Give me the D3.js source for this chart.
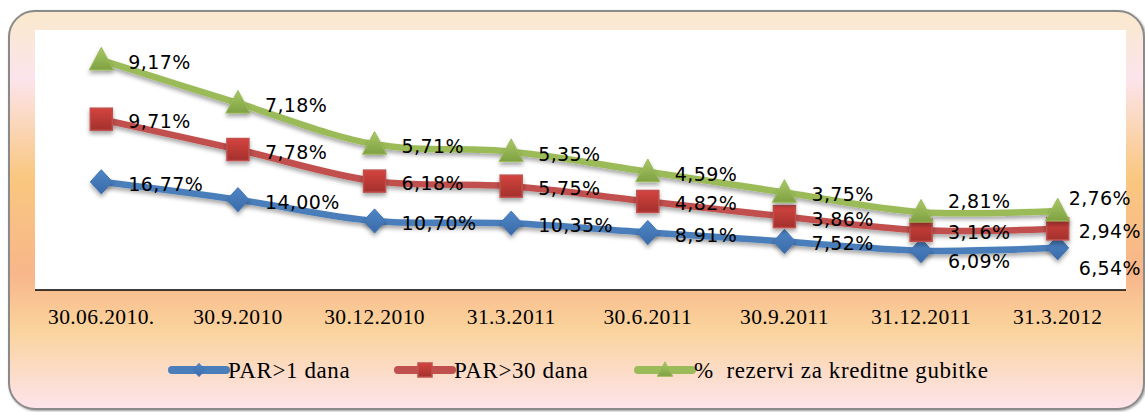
<!DOCTYPE html>
<html>
<head>
<meta charset="utf-8">
<script src="https://cdn.jsdelivr.net/npm/d3@7"></script>
<style>
  html, body { margin: 0; padding: 0; background: #fff; }
  svg { display: block; }
</style>
</head>
<body>
<svg id="chart" width="1145" height="412"></svg>
<script>
// categories and series
const categories = ["30.06.2010.", "30.9.2010", "30.12.2010", "31.3.2011", "30.6.2011", "30.9.2011", "31.12.2011", "31.3.2012"];
const par1 = [16.77, 14.00, 10.70, 10.35, 8.91, 7.52, 6.09, 6.54];
const par30 = [9.71, 7.78, 6.18, 5.75, 4.82, 3.86, 3.16, 2.94];
const rezerve = [9.17, 7.18, 5.71, 5.35, 4.59, 3.75, 2.81, 2.76];
const seriesNames = ["PAR>1 dana", "PAR>30 dana", "%  rezervi za kreditne gubitke"];

// a few labels were moved by hand in the original to avoid overlaps
const labelNudge = {
  "0-6": [0, 8], "2-6": [0, -13],
  "0-7": [-6, 18], "1-7": [-6, 0], "2-7": [-16, -15]
};

const svg = d3.select("#chart");
const defs = svg.append("defs");

const bg = defs.append("linearGradient").attr("id", "bg")
  .attr("x1", 0).attr("y1", 0).attr("x2", 0).attr("y2", 1);
[[0, "#fae9cc"], [0.17, "#fce4ec"], [0.42, "#f9c77f"], [0.66, "#f8b68a"], [0.8, "#fad39c"], [1, "#fde4ec"]]
  .forEach(s => bg.append("stop").attr("offset", s[0]).attr("stop-color", s[1]));

const shadow = defs.append("filter").attr("id", "shadow")
  .attr("x", "-20%").attr("y", "-20%").attr("width", "140%").attr("height", "160%");
shadow.append("feDropShadow").attr("dx", 0).attr("dy", 3).attr("stdDeviation", 2)
  .attr("flood-color", "#000").attr("flood-opacity", 0.35);

const boxShadow = defs.append("filter").attr("id", "boxShadow");
boxShadow.append("feDropShadow").attr("dx", 1).attr("dy", 1).attr("stdDeviation", 1)
  .attr("flood-color", "#000").attr("flood-opacity", 0.4);

const colors = [
  { line: "#4a7ebb", top: "#4f86c6", bottom: "#3a6aa8" },
  { line: "#c0504d", top: "#d4443f", bottom: "#a3302c" },
  { line: "#9bbb59", top: "#a9c866", bottom: "#7fa142" }
];
colors.forEach((c, i) => {
  const g = defs.append("linearGradient").attr("id", "mk" + i)
    .attr("x1", 0).attr("y1", 0).attr("x2", 0).attr("y2", 1);
  g.append("stop").attr("offset", 0).attr("stop-color", c.top);
  g.append("stop").attr("offset", 1).attr("stop-color", c.bottom);
});

// background
svg.append("rect")
  .attr("x", 9).attr("y", 11).attr("width", 1135).attr("height", 398)
  .attr("rx", 26).attr("ry", 26)
  .attr("fill", "url(#bg)")
  .attr("stroke", "#8a8a8a").attr("stroke-width", 2)
  .attr("filter", "url(#boxShadow)");

const plot = { left: 35, right: 1126, top: 30, bottom: 290 };
svg.append("rect")
  .attr("x", plot.left).attr("y", plot.top)
  .attr("width", plot.right - plot.left).attr("height", plot.bottom - plot.top)
  .attr("fill", "#fff");

const x = d3.scaleBand().domain(categories).range([33, plot.right]);
const y = d3.scaleLinear().domain([0, 40]).range([plot.bottom, 32]);
const cx = c => x(c) + x.bandwidth() / 2;

// axis
const xAxis = svg.append("g")
  .attr("transform", `translate(0,${plot.bottom})`)
  .call(d3.axisBottom(x).tickSize(0).tickPadding(19));
xAxis.select(".domain").attr("stroke", "#000").attr("stroke-width", 1.3)
  .attr("d", `M${plot.left},0H${plot.right}`);
xAxis.selectAll("text")
  .attr("font-family", "'Liberation Serif', 'Times New Roman', serif")
  .attr("font-size", 21.5).attr("fill", "#000")
  .attr("letter-spacing", 0.4);

// stacked series
const rows = categories.map((c, i) => ({ cat: c, s0: par1[i], s1: par30[i], s2: rezerve[i] }));
const stacked = d3.stack().keys(["s0", "s1", "s2"])(rows);

const line = d3.line()
  .x(d => cx(d.data.cat))
  .y(d => y(d[1]))
  .curve(d3.curveCatmullRom.alpha(0.5));

function marker(sel, i, s) {
  if (i === 0) {
    sel.append("path").attr("d", `M0,${-s * 0.55}L${s * 0.5},0L0,${s * 0.55}L${-s * 0.5},0Z`)
      .attr("fill", "url(#mk0)").attr("stroke", "#3f74b5").attr("stroke-width", 1);
  } else if (i === 1) {
    sel.append("rect").attr("x", -s / 2).attr("y", -s / 2).attr("width", s).attr("height", s)
      .attr("fill", "url(#mk1)").attr("stroke", "#c0504d").attr("stroke-width", 1.5);
  } else {
    sel.append("path").attr("d", `M0,${-s * 0.58}L${s * 0.55},${s * 0.45}L${-s * 0.55},${s * 0.45}Z`)
      .attr("fill", "url(#mk2)").attr("stroke", "#9bbb59").attr("stroke-width", 1);
  }
}

const valueSets = [par1, par30, rezerve];
const fmt = v => d3.format(".2f")(v).replace(".", ",") + "%";

stacked.forEach((layer, i) => {
  const g = svg.append("g");
  g.append("path")
    .datum(layer)
    .attr("fill", "none")
    .attr("stroke", colors[i].line)
    .attr("stroke-width", 6.5)
    .attr("stroke-linejoin", "round")
    .attr("filter", "url(#shadow)")
    .attr("d", line);

  layer.forEach(d => {
    const m = g.append("g")
      .attr("transform", `translate(${cx(d.data.cat)},${y(d[1])})`)
      .attr("filter", "url(#shadow)");
    marker(m, i, 22);
  });
});

// labels on top of all lines
stacked.forEach((layer, i) => {
  svg.append("g").selectAll("text")
    .data(layer)
    .join("text")
    .attr("x", (d, j) => cx(d.data.cat) + 27 + ((labelNudge[i + "-" + j] || [0, 0])[0]))
    .attr("y", (d, j) => y(d[1]) + 2 + ((labelNudge[i + "-" + j] || [0, 0])[1]))
    .attr("dominant-baseline", "central")
    .attr("font-family", "'DejaVu Sans', sans-serif")
    .attr("font-size", 19)
    .attr("letter-spacing", 0.4)
    .attr("fill", "#000")
    .text((d, j) => fmt(valueSets[i][j]));
});

// legend
const legendX = [172, 398, 638];
const legend = svg.append("g").attr("transform", "translate(0,370)");
seriesNames.forEach((name, i) => {
  const g = legend.append("g").attr("transform", `translate(${legendX[i]},0)`);
  g.append("line").attr("x1", 0).attr("x2", 54).attr("y1", 0).attr("y2", 0)
    .attr("stroke", colors[i].line).attr("stroke-width", 8).attr("stroke-linecap", "round");
  const m = g.append("g").attr("transform", "translate(27,0)");
  marker(m, i, i === 0 ? 12 : 14);
  g.append("text")
    .attr("x", 56).attr("y", 0)
    .attr("dominant-baseline", "central")
    .attr("font-family", "'Liberation Serif', 'Times New Roman', serif")
    .attr("font-size", 23)
    .attr("letter-spacing", 0.6)
    .attr("xml:space", "preserve")
    .style("white-space", "pre")
    .attr("fill", "#000")
    .text(name);
});
</script>
</body>
</html>
